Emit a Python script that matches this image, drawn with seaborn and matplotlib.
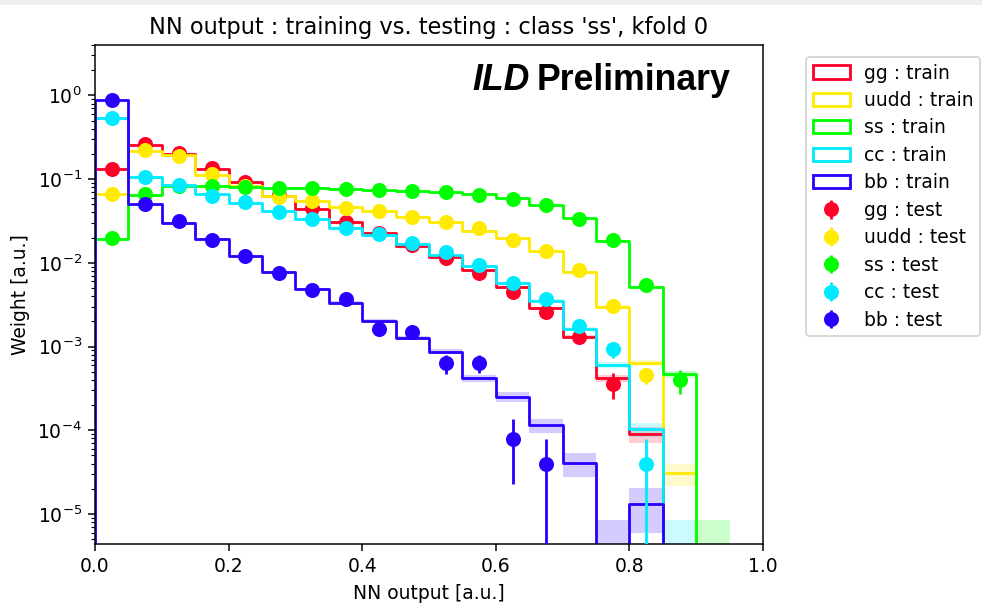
import numpy as np
import pandas as pd
import matplotlib
matplotlib.use("Agg")
import matplotlib.pyplot as plt
import seaborn as sns
from matplotlib.patches import Patch, Rectangle

# ---------------- data ----------------
classes = ["gg", "uudd", "ss", "cc", "bb"]
colors = ["#ff0029", "#ffea00", "#00ff00", "#00ebff", "#2900ff"]
bin_centers = np.arange(20) * 0.05 + 0.025
x_ticks = [0.0, 0.2, 0.4, 0.6, 0.8, 1.0]

train_gg = [0.131, 0.256, 0.202, 0.133, 0.0918, 0.0630, 0.0444, 0.0311, 0.0230, 0.0160,
            0.0117, 0.00822, 0.00520, 0.00287, 0.00129, 0.000418, 0.000090, 0, 0, 0]
train_uudd = [0.0660, 0.217, 0.195, 0.112, 0.0836, 0.0630, 0.0549, 0.0469, 0.0417, 0.0356,
              0.0311, 0.0243, 0.0200, 0.0140, 0.00785, 0.00300, 0.000643, 0.0000306, 0, 0]
train_ss = [0.0191, 0.0648, 0.0836, 0.0836, 0.0813, 0.0791, 0.0791, 0.0769, 0.0743, 0.0729,
            0.0697, 0.0666, 0.0591, 0.0492, 0.0341, 0.0183, 0.00520, 0.000467, 0.0000042, 0]
train_cc = [0.534, 0.107, 0.0853, 0.0666, 0.0524, 0.0421, 0.0332, 0.0259, 0.0215, 0.0168,
            0.0124, 0.00918, 0.00570, 0.00353, 0.00161, 0.000603, 0.000103, 0.0000042, 0, 0]
train_bb = [0.884, 0.0505, 0.0302, 0.0191, 0.0121, 0.00785, 0.00492, 0.00334, 0.00202, 0.00128,
            0.000869, 0.000418, 0.000252, 0.000116, 0.0000404, 0.0000042, 0.0000132, 0, 0, 0]

train_err_gg = [0.00072, 0.00101, 0.0009, 0.00073, 0.00061, 0.0005, 0.00042, 0.00035, 0.0003, 0.00025,
                0.00022, 0.00018, 0.00014, 0.00011, 0.000072, 0.000041, 0.000019, 0, 0, 0]
train_err_uudd = [0.00051, 0.00093, 0.00088, 0.00067, 0.00058, 0.0005, 0.00047, 0.00043, 0.00041, 0.00038,
                  0.00035, 0.00031, 0.00028, 0.00024, 0.00018, 0.00011, 0.000051, 0.000009, 0, 0]
train_err_ss = [0.00028, 0.00051, 0.00058, 0.00058, 0.00057, 0.00056, 0.00056, 0.00055, 0.00055, 0.00054,
                0.00053, 0.00052, 0.00049, 0.00044, 0.00037, 0.00027, 0.00014, 0.000043, 0.0000042, 0]
train_err_cc = [0.00146, 0.00065, 0.00058, 0.00052, 0.00046, 0.00041, 0.00036, 0.00032, 0.00029, 0.00026,
                0.00022, 0.00019, 0.00015, 0.00012, 0.00008, 0.000049, 0.00002, 0.0000042, 0, 0]
train_err_bb = [0.00188, 0.00045, 0.00035, 0.00028, 0.00022, 0.00018, 0.00014, 0.00012, 0.00009, 0.000072,
                0.000059, 0.000041, 0.000032, 0.000022, 0.000013, 0.0000042, 0.0000073, 0, 0, 0]

test_gg = [0.131, 0.263, 0.204, 0.137, 0.0933, 0.064, 0.0456, 0.0311, 0.0230, 0.0163,
           0.0114, 0.00751, 0.00453, 0.00261, 0.00129, 0.000357, 0, 0, 0, 0]
test_uudd = [0.066, 0.223, 0.191, 0.114, 0.083, 0.0618, 0.0549, 0.0456, 0.0417, 0.0356,
             0.0305, 0.0259, 0.0188, 0.0140, 0.00822, 0.00306, 0.000458, 0, 0, 0]
test_ss = [0.020, 0.066, 0.0836, 0.0836, 0.0813, 0.0791, 0.0791, 0.0769, 0.0743, 0.0729,
           0.0709, 0.0648, 0.0575, 0.0492, 0.0332, 0.0188, 0.00543, 0.000399, 0, 0]
test_cc = [0.534, 0.107, 0.0853, 0.0630, 0.0530, 0.0409, 0.0332, 0.0263, 0.0221, 0.0171,
           0.0136, 0.00944, 0.00570, 0.00367, 0.00176, 0.000929, 0.0000393, 0, 0, 0]
test_bb = [0.87, 0.0505, 0.0317, 0.0188, 0.0121, 0.00751, 0.00474, 0.00367, 0.00161, 0.00148,
           0.00063, 0.00064, 0.000079, 0.0000396, 0, 0, 0, 0, 0, 0]

test_err_gg = [0.00229, 0.00324, 0.00285, 0.00234, 0.00193, 0.0016, 0.00135, 0.00111, 0.00096, 0.00081,
               0.00067, 0.00055, 0.00043, 0.00032, 0.00023, 0.00012, 0, 0, 0, 0]
test_err_uudd = [0.00162, 0.00298, 0.00276, 0.00213, 0.00182, 0.00157, 0.00148, 0.00135, 0.00129, 0.00119,
                 0.0011, 0.00102, 0.00087, 0.00075, 0.00057, 0.00035, 0.0001, 0, 0, 0]
test_err_ss = [0.00089, 0.00162, 0.00183, 0.00183, 0.0018, 0.00178, 0.00178, 0.00175, 0.00172, 0.00171,
               0.00168, 0.00161, 0.00152, 0.0014, 0.00115, 0.00087, 0.00047, 0.000125, 0, 0]
test_err_cc = [0.00462, 0.00207, 0.00185, 0.00159, 0.00146, 0.00128, 0.00115, 0.00103, 0.00094, 0.00083,
               0.00074, 0.00061, 0.00048, 0.00038, 0.00027, 0.00019, 0.0000393, 0, 0, 0]
test_err_bb = [0.0059, 0.00142, 0.00113, 0.00087, 0.0007, 0.00055, 0.00044, 0.00038, 0.00025, 0.00024,
               0.000155, 0.00016, 0.000056, 0.0000396, 0, 0, 0, 0, 0, 0]

train_vals = [train_gg, train_uudd, train_ss, train_cc, train_bb]
train_errs = [train_err_gg, train_err_uudd, train_err_ss, train_err_cc, train_err_bb]
test_vals = [test_gg, test_uudd, test_ss, test_cc, test_bb]
test_errs = [test_err_gg, test_err_uudd, test_err_ss, test_err_cc, test_err_bb]

# ---------------- figure ----------------
DPI = 135
fig = plt.figure(figsize=(982 / DPI, 612 / DPI), dpi=DPI)
ax = fig.add_axes([95 / 982, 1 - 544 / 612, (763 - 95) / 982, (544 - 45) / 612])
fig.add_artist(Rectangle((0, 1 - 5 / 612), 1, 5 / 612, transform=fig.transFigure,
                         color="#eeeeee", zorder=0, linewidth=0))

hist_bins = [round(-0.05 + 0.05 * i, 4) for i in range(23)]
width = 0.05

for cls, c, tv, te in zip(classes, colors, train_vals, train_errs):
    tv = np.asarray(tv, float)
    te = np.asarray(te, float)
    df = pd.DataFrame({"nn": bin_centers, "w": tv})
    sns.histplot(data=df, x="nn", weights="w", bins=hist_bins, element="step", fill=False,
                 color=c, linewidth=1.5, ax=ax, zorder=2)
    low = np.maximum(tv - te, 1e-12)
    ax.bar(bin_centers, (tv + te) - low, bottom=low, width=width, color=c, alpha=0.2,
           linewidth=0, zorder=1)

eb_handles = []
for cls, c, sv, se in zip(classes, colors, test_vals, test_errs):
    sv = np.asarray(sv, float)
    se = np.asarray(se, float)
    yv = np.where(sv > 0, sv, np.nan)
    h = ax.errorbar(bin_centers, yv, yerr=se, fmt="o", color=c, ms=7, elinewidth=1.5,
                    capsize=0, zorder=3)
    eb_handles.append(h)

ax.set_yscale("log")
ax.set_xlim(0, 1)
ax.set_ylim(4.38e-6, 4.0)
ax.set_xticks(x_ticks)
ax.set_title("NN output : training vs. testing : class 'ss', kfold 0")
ax.set_xlabel("NN output [a.u.]")
ax.set_ylabel("Weight [a.u.]")

ax.text(0.651, 0.91, "ILD", transform=ax.transAxes, ha="right", va="baseline",
        fontsize=19, fontweight="bold", fontstyle="italic", family="Liberation Sans")
ax.text(0.6617, 0.91, "Preliminary", transform=ax.transAxes, ha="left", va="baseline",
        fontsize=19, fontweight="bold", family="Liberation Sans")

handles = [Patch(facecolor="none", edgecolor=c, linewidth=1.5) for c in colors] + eb_handles
labels = [f"{k} : train" for k in classes] + [f"{k} : test" for k in classes]
ax.legend(handles, labels, loc="upper left", bbox_to_anchor=(806 / 982, 1 - 57 / 612),
          bbox_transform=fig.transFigure, borderaxespad=0, labelspacing=0.45,
          borderpad=0.35, handletextpad=0.75)

fig.savefig("out.png", dpi=DPI)
